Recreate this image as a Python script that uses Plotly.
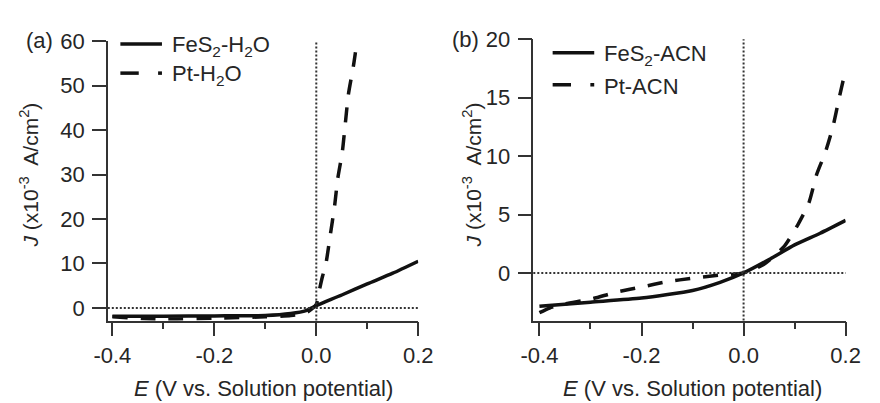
import plotly.graph_objects as go

W, H = 880, 403

# ---------------- data ----------------
# Panel (a): H2O
fes2_h2o_E = [-0.40, -0.30, -0.20, -0.10, -0.05, -0.02, 0.00, 0.05, 0.10, 0.15, 0.20]
fes2_h2o_J = [-1.9, -1.85, -1.8, -1.7, -1.25, -0.6, 0.5, 2.9, 5.4, 7.8, 10.5]

pt_h2o_E = [-0.40, -0.30, -0.20, -0.10, -0.05, -0.02, 0.000, 0.006, 0.012, 0.019, 0.027,
            0.036, 0.042, 0.051, 0.057, 0.063, 0.073, 0.080]
pt_h2o_J = [-2.0, -2.6, -2.3, -2.0, -1.7, -1.1, 0.8, 4.0, 7.0, 10.0, 16.0,
            23.0, 29.0, 35.0, 41.5, 48.0, 54.5, 60.0]

# Panel (b): ACN
fes2_acn_E = [-0.40, -0.30, -0.20, -0.10, -0.046, 0.00, 0.05, 0.10, 0.15, 0.20]
fes2_acn_J = [-2.85, -2.5, -2.15, -1.5, -0.8, 0.0, 1.15, 2.4, 3.4, 4.5]

pt_acn_E = [-0.40, -0.38, -0.35, -0.30, -0.25, -0.20, -0.15, -0.10, -0.05, 0.00, 0.04,
            0.08, 0.106, 0.128, 0.143, 0.16, 0.175, 0.187, 0.197, 0.20]
pt_acn_J = [-3.4, -3.0, -2.65, -2.25, -1.65, -1.2, -0.75, -0.45, -0.2, 0.0, 0.75,
            2.3, 4.1, 6.0, 8.4, 10.3, 12.5, 14.9, 16.8, 17.2]

x_ticks = [-0.4, -0.2, 0.0, 0.2]
x_ticklabels = ["-0.4", "-0.2", "0.0", "0.2"]
ya_ticks = [0, 10, 20, 30, 40, 50, 60]
yb_ticks = [0, 5, 10, 15, 20]

legend_a = ["FeS<sub>2</sub>-H<sub>2</sub>O", "Pt-H<sub>2</sub>O"]
legend_b = ["FeS<sub>2</sub>-ACN", "Pt-ACN"]

# ---------------- style ----------------
FONT = "Liberation Sans, Arial, sans-serif"
TXT = "#262626"
LINE = "#111111"
FS = 22
DASH = "15px,13px"
LW = 3.5


def px(x, y):
    return x / W, 1 - y / H


fig = go.Figure()

fig.add_trace(go.Scatter(x=fes2_h2o_E, y=fes2_h2o_J, mode="lines", line=dict(color=LINE, width=LW, shape="spline", smoothing=0.6),
                         xaxis="x", yaxis="y", showlegend=False))
fig.add_trace(go.Scatter(x=pt_h2o_E, y=pt_h2o_J, mode="lines", line=dict(color=LINE, width=LW, dash=DASH, shape="spline", smoothing=0.6),
                         xaxis="x", yaxis="y", showlegend=False))
fig.add_trace(go.Scatter(x=fes2_acn_E, y=fes2_acn_J, mode="lines", line=dict(color=LINE, width=LW, shape="spline", smoothing=0.6),
                         xaxis="x2", yaxis="y2", showlegend=False))
fig.add_trace(go.Scatter(x=pt_acn_E, y=pt_acn_J, mode="lines", line=dict(color=LINE, width=LW, dash=DASH, shape="spline", smoothing=0.6),
                         xaxis="x2", yaxis="y2", showlegend=False))

axis_common = dict(showline=True, linecolor="#333333", linewidth=1.5, ticks="outside",
                   tickcolor="#333333", tickwidth=1.5, ticklen=14, showgrid=False, zeroline=False,
                   tickfont=dict(family=FONT, size=FS, color=TXT))

xa = dict(axis_common, tickvals=x_ticks, ticktext=x_ticklabels,
          minor=dict(dtick=0.1, tick0=0, ticks="outside", ticklen=7, tickcolor="#333333", tickwidth=1.5))
ya = dict(axis_common, ticklabelstandoff=3)

fig.update_layout(
    width=W, height=H, margin=dict(l=0, r=0, t=0, b=0),
    paper_bgcolor="white", plot_bgcolor="white",
    xaxis=dict(xa, domain=[97 / W, 418 / W], range=[-0.409, 0.2], anchor="y"),
    yaxis=dict(ya, domain=[1 - 318 / H, 1 - 30 / H], range=[-2.84, 60], tickvals=ya_ticks, anchor="x"),
    xaxis2=dict(xa, domain=[537 / W, 860 / W], range=[-0.412, 0.2], anchor="y2"),
    yaxis2=dict(ya, domain=[1 - 318 / H, 1 - 28 / H], range=[-4.07, 20], tickvals=yb_ticks, anchor="x2"),
)

# dotted zero reference lines
dot = dict(color="#333333", width=2, dash="2px,2px")
for xr, yr in (("x", "y"), ("x2", "y2")):
    fig.add_shape(type="line", xref=xr + " domain", yref=yr, x0=0, x1=1, y0=0, y1=0, line=dot)
    fig.add_shape(type="line", xref=xr, yref=yr + " domain", x0=0, x1=0, y0=0, y1=1, line=dot)

ann = []


def text(x, y, s, xanchor="center", yanchor="middle", angle=0, size=FS):
    px_, py_ = px(x, y)
    ann.append(dict(x=px_, y=py_, xref="paper", yref="paper", text=s, showarrow=False,
                    xanchor=xanchor, yanchor=yanchor, textangle=angle, borderpad=0,
                    font=dict(family=FONT, size=size, color=TXT)))


# panel labels
text(26, 29, "(a)")
text(467, 28, "(b)")

# axis titles
xt = "<i>E</i> (V vs. Solution potential)"
yt = "<i>J</i> (x10<sup>-3</sup>  A/cm<sup>2</sup>)"
text(258, 388, xt)
text(702, 388, xt)
text(16, 168, yt, angle=-90, size=21)
text(474, 168, yt, angle=-90, size=21)

# manual legends
def legend(x0, y1, y2, labels):
    fig.add_shape(type="line", xref="paper", yref="paper",
                  x0=x0 / W, x1=(x0 + 43) / W, y0=1 - y1 / H, y1=1 - y1 / H,
                  line=dict(color=LINE, width=LW))
    fig.add_shape(type="line", xref="paper", yref="paper",
                  x0=x0 / W, x1=(x0 + 19) / W, y0=1 - y2 / H, y1=1 - y2 / H,
                  line=dict(color=LINE, width=LW))
    fig.add_shape(type="line", xref="paper", yref="paper",
                  x0=(x0 + 39) / W, x1=(x0 + 43) / W, y0=1 - y2 / H, y1=1 - y2 / H,
                  line=dict(color=LINE, width=LW))
    text(x0 + 52, y1 + 2, labels[0], xanchor="left")
    text(x0 + 52, y2 + 2, labels[1], xanchor="left")


legend(110, 33, 63, legend_a)
legend(557, 42, 75, legend_b)

fig.update_layout(annotations=ann)
fig.write_html("out.html")
